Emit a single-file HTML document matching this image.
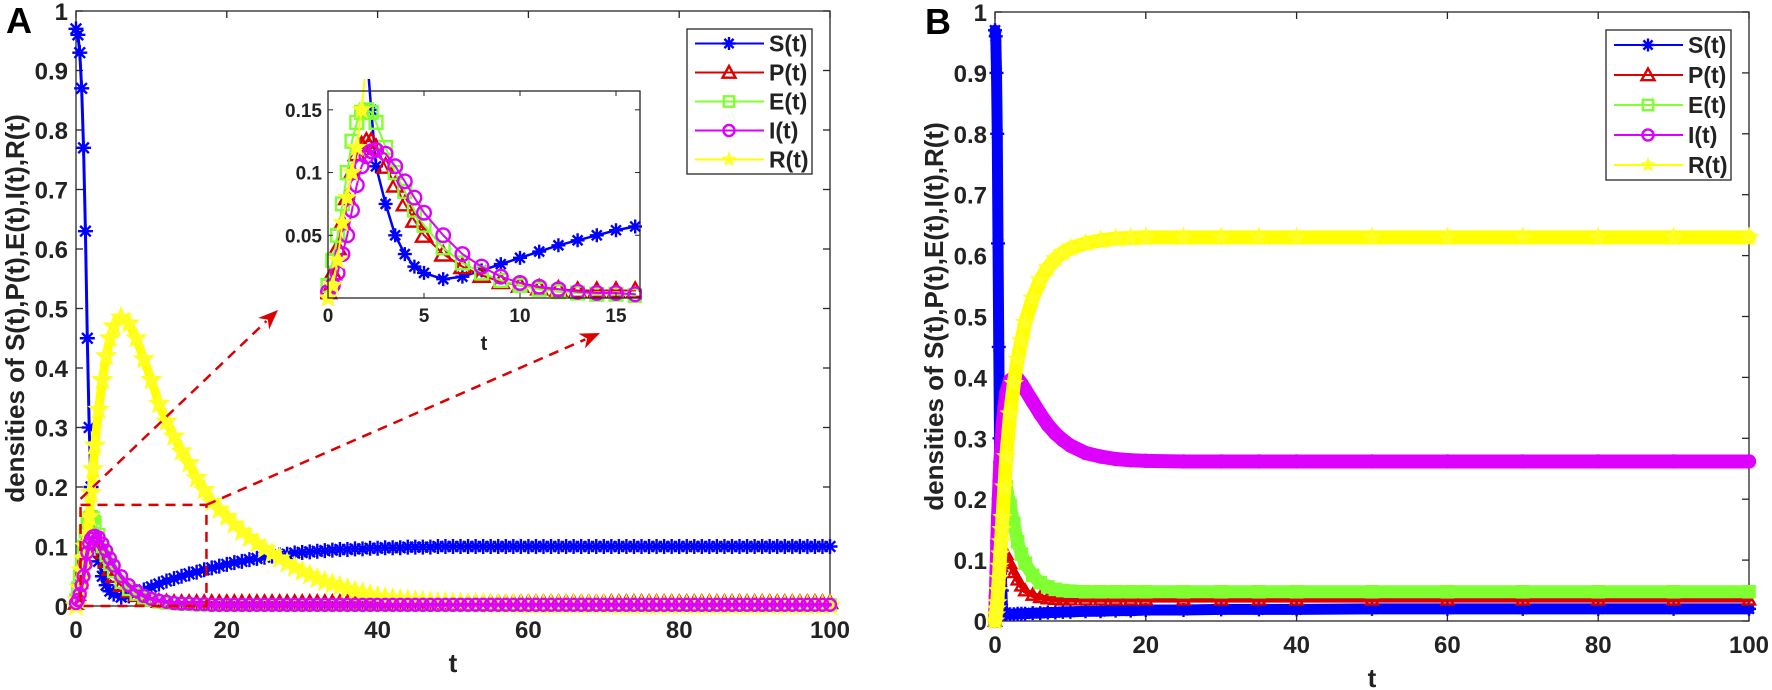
<!DOCTYPE html>
<html><head><meta charset="utf-8">
<style>
body{margin:0;background:#fff;}
svg{display:block;font-family:"Liberation Sans",Arial,sans-serif;font-weight:bold;}
</style></head>
<body>
<svg id="chart" width="1772" height="690" viewBox="0 0 1772 690" xmlns="http://www.w3.org/2000/svg"></svg>
<script>
// ---------- Panel A data ----------
const tA = [0,0.25,0.5,0.75,1,1.25,1.5,1.75,2,2.25,2.5,3,3.5,4,4.5,5,6,7,8,9,10,11,12,13,14,15,
16,17,18,19,20,21,22,23,24,25,26,27,28,29,30,31,32,33,34,35,36,37,38,39,40,41,42,43,44,45,46,47,48,49,50,
51,52,53,54,55,56,57,58,59,60,61,62,63,64,65,66,67,68,69,70,71,72,73,74,75,76,77,78,79,80,
81,82,83,84,85,86,87,88,89,90,91,92,93,94,95,96,97,98,99,100];
const sA = [0.97,0.96,0.93,0.87,0.77,0.63,0.45,0.30,0.20,0.15,0.105,0.075,0.05,0.035,0.025,0.02,0.015,0.017,0.022,0.027,0.032,0.037,0.042,0.046,0.05,0.054,
0.057,0.061,0.064,0.067,0.07,0.073,0.075,0.078,0.08,0.082,0.084,0.086,0.087,0.089,0.09,0.091,0.092,0.093,0.094,0.095,0.095,0.096,0.096,0.097,0.097,0.098,0.098,0.098,0.099,0.099,0.099,0.099,0.1,0.1,0.1,
0.1,0.1,0.1,0.1,0.1,0.1,0.1,0.1,0.1,0.1,0.1,0.1,0.1,0.1,0.1,0.1,0.1,0.1,0.1,0.1,0.1,0.1,0.1,0.1,0.1,0.1,0.1,0.1,0.1,0.1,
0.1,0.1,0.1,0.1,0.1,0.1,0.1,0.1,0.1,0.1,0.1,0.1,0.1,0.1,0.1,0.1,0.1,0.1,0.1,0.1];
const pA = [0.005,0.02,0.04,0.06,0.08,0.1,0.115,0.122,0.125,0.125,0.12,0.105,0.09,0.075,0.062,0.05,0.035,0.025,0.018,0.013,0.01,0.008,0.007,0.006,0.006,0.006,
0.006,0.006,0.006,0.006,0.006,0.006,0.006,0.006,0.006,0.006,0.006,0.006,0.006,0.006,0.006,0.006,0.006,0.006,0.006,0.006,0.006,0.006,0.006,0.006,0.006,0.006,0.006,0.006,0.006,0.006,0.006,0.006,0.006,0.006,0.006,
0.006,0.006,0.006,0.006,0.006,0.006,0.006,0.006,0.006,0.006,0.006,0.006,0.006,0.006,0.006,0.006,0.006,0.006,0.006,0.006,0.006,0.006,0.006,0.006,0.006,0.006,0.006,0.006,0.006,0.006,
0.006,0.006,0.006,0.006,0.006,0.006,0.006,0.006,0.006,0.006,0.006,0.006,0.006,0.006,0.006,0.006,0.006,0.006,0.006,0.006];
const eA = [0.01,0.03,0.05,0.075,0.1,0.125,0.14,0.148,0.15,0.148,0.14,0.12,0.1,0.085,0.07,0.058,0.04,0.028,0.02,0.014,0.01,0.007,0.005,0.004,0.003,0.003,
0.002,0.002,0.002,0.002,0.002,0.002,0.002,0.002,0.002,0.002,0.002,0.002,0.002,0.002,0.002,0.002,0.002,0.002,0.002,0.002,0.002,0.002,0.002,0.002,0.002,0.002,0.002,0.002,0.002,0.002,0.002,0.002,0.002,0.002,0.002,
0.002,0.002,0.002,0.002,0.002,0.002,0.002,0.002,0.002,0.002,0.002,0.002,0.002,0.002,0.002,0.002,0.002,0.002,0.002,0.002,0.002,0.002,0.002,0.002,0.002,0.002,0.002,0.002,0.002,0.002,
0.002,0.002,0.002,0.002,0.002,0.002,0.002,0.002,0.002,0.002,0.002,0.002,0.002,0.002,0.002,0.002,0.002,0.002,0.002,0.002];
const iA = [0.005,0.01,0.02,0.035,0.05,0.07,0.09,0.105,0.113,0.117,0.118,0.115,0.105,0.093,0.08,0.068,0.05,0.035,0.025,0.017,0.012,0.009,0.007,0.005,0.004,0.004,
0.003,0.003,0.002,0.002,0.002,0.002,0.002,0.002,0.002,0.002,0.002,0.002,0.002,0.002,0.002,0.002,0.002,0.002,0.002,0.002,0.002,0.002,0.002,0.002,0.002,0.002,0.002,0.002,0.002,0.002,0.002,0.002,0.002,0.002,0.002,
0.002,0.002,0.002,0.002,0.002,0.002,0.002,0.002,0.002,0.002,0.002,0.002,0.002,0.002,0.002,0.002,0.002,0.002,0.002,0.002,0.002,0.002,0.002,0.002,0.002,0.002,0.002,0.002,0.002,0.002,
0.002,0.002,0.002,0.002,0.002,0.002,0.002,0.002,0.002,0.002,0.002,0.002,0.002,0.002,0.002,0.002,0.002,0.002,0.002,0.002];
const rA = [0,0.01,0.03,0.06,0.08,0.1,0.12,0.15,0.19,0.23,0.27,0.33,0.38,0.42,0.45,0.47,0.485,0.475,0.45,0.415,0.38,0.34,0.31,0.285,0.26,0.24,
0.215,0.195,0.175,0.162,0.15,0.137,0.125,0.115,0.105,0.096,0.088,0.08,0.072,0.065,0.058,0.052,0.046,0.041,0.037,0.033,0.029,0.025,0.022,0.019,0.016,0.014,0.012,0.011,0.01,0.009,0.008,0.007,0.006,0.006,0.005,
0.005,0.004,0.004,0.004,0.003,0.003,0.003,0.003,0.002,0.002,0.002,0.002,0.002,0.002,0.002,0.002,0.002,0.002,0.002,0.002,0.001,0.001,0.001,0.001,0.001,0.001,0.001,0.001,0.001,0.001,
0.001,0.001,0.001,0.001,0.001,0.001,0.001,0.001,0.001,0.001,0.001,0.001,0.001,0.001,0.001,0.001,0.001,0.001,0.001,0.001];
// ---------- Panel B data ----------
const tB = [0,0.1,0.2,0.3,0.4,0.5,0.6,0.7,0.8,0.9,1,1.25,1.5,2,2.5,3,3.5,4,5,6,7,8,9,10,12,14,16,18,20,25,30,35,40,50,60,70,80,90,100];
const sB = [0.97,0.96,0.9,0.8,0.62,0.45,0.3,0.18,0.1,0.05,0.02,0.012,0.011,0.011,0.011,0.012,0.012,0.012,0.013,0.013,0.014,0.014,0.015,0.015,0.016,0.016,0.017,0.017,0.018,0.018,0.019,0.019,0.019,0.02,0.02,0.02,0.02,0.02,0.02];
const pB = [0,0.01,0.02,0.03,0.045,0.06,0.07,0.08,0.09,0.1,0.11,0.115,0.11,0.095,0.08,0.068,0.058,0.05,0.043,0.039,0.037,0.036,0.035,0.035,0.035,0.035,0.035,0.035,0.035,0.035,0.035,0.035,0.035,0.035,0.035,0.035,0.035,0.035,0.035];
const eB = [0,0.02,0.04,0.06,0.08,0.1,0.12,0.14,0.16,0.18,0.2,0.22,0.22,0.19,0.16,0.13,0.11,0.095,0.075,0.063,0.056,0.052,0.05,0.049,0.048,0.048,0.048,0.048,0.048,0.048,0.048,0.048,0.048,0.048,0.048,0.048,0.048,0.048,0.048];
const iB = [0,0.04,0.08,0.13,0.17,0.2,0.23,0.26,0.28,0.3,0.32,0.35,0.375,0.395,0.4,0.398,0.39,0.38,0.36,0.34,0.322,0.308,0.297,0.288,0.276,0.27,0.266,0.264,0.263,0.262,0.262,0.262,0.262,0.262,0.262,0.262,0.262,0.262,0.262];
const rB = [0,0.01,0.02,0.03,0.05,0.07,0.09,0.11,0.13,0.15,0.17,0.22,0.27,0.34,0.39,0.43,0.46,0.49,0.53,0.56,0.58,0.595,0.605,0.612,0.62,0.625,0.628,0.629,0.63,0.63,0.63,0.63,0.63,0.63,0.63,0.63,0.63,0.63,0.63];
// ---------- ticks ----------
const xTicks = [0,20,40,60,80,100];
const yTicks = [0,0.1,0.2,0.3,0.4,0.5,0.6,0.7,0.8,0.9,1];
const yTickLabels = ["0","0.1","0.2","0.3","0.4","0.5","0.6","0.7","0.8","0.9","1"];
const inXTicks = [0,5,10,15];
const inYTicks = [0.05,0.1,0.15];
const inYTickLabels = ["0.05","0.1","0.15"];
const legendLabels = ["S(t)","P(t)","E(t)","I(t)","R(t)"];

const NS="http://www.w3.org/2000/svg";
const svg=document.getElementById('chart');
const COLORS=["#0000ff","#dd0000","#80ff33","#dd00ff","#ffff22"];
const LINECOL=["#0000ff","#dd0000","#80ff33","#dd00ff","#ffff00"];
function el(tag,attrs,parent){const e=document.createElementNS(NS,tag);for(const k in attrs)e.setAttribute(k,attrs[k]);(parent||svg).appendChild(e);return e;}
function txt(x,y,s,size,anchor,parent){const t=el('text',{x:x,y:y,'font-size':size,'text-anchor':anchor||'middle',fill:'#222'},parent);t.textContent=s;return t;}
function scale(d0,d1,r0,r1){return v=>r0+(v-d0)/(d1-d0)*(r1-r0);}

function marker(kind,x,y,sz,col,parent){
  let m;
  const r=sz/2;
  if(kind===0){
    const d=[];for(let k=0;k<4;k++){const a=k*Math.PI/4;d.push(`M${x-r*Math.cos(a)},${y-r*Math.sin(a)}L${x+r*Math.cos(a)},${y+r*Math.sin(a)}`);}
    m=el('path',{d:d.join(''),stroke:col,'stroke-width':2.4,fill:'none'},parent);
  } else if(kind===1){
    m=el('polygon',{points:`${x},${y-r} ${x-r},${y+r*0.8} ${x+r},${y+r*0.8}`,stroke:col,'stroke-width':2.4,fill:'none'},parent);
  } else if(kind===2){
    m=el('rect',{x:x-r*0.8,y:y-r*0.8,width:r*1.6,height:r*1.6,stroke:col,'stroke-width':2.4,fill:'none'},parent);
  } else if(kind===3){
    m=el('circle',{cx:x,cy:y,r:r*0.85,stroke:col,'stroke-width':2.4,fill:'none'},parent);
  } else {
    const p=[];for(let k=0;k<10;k++){const a=-Math.PI/2+k*Math.PI/5;const rr=k%2?r*0.45:r*1.05;p.push(`${x+rr*Math.cos(a)},${y+rr*Math.sin(a)}`);}
    m=el('polygon',{points:p.join(' '),fill:col,stroke:col,'stroke-width':1},parent);
  }
  return m;
}

function axesBox(x0,y0,x1,y1,name){
  const r=el('rect',{x:x0,y:y0,width:x1-x0,height:y1-y0,fill:'none',stroke:'#262626','stroke-width':1.3});
  
  
}

function drawSeries(ts,vals,k,sx,sy,lw,msz,name,parent,clipT){
  const g=el('g',{},parent);
  
  
  const pts=[];
  for(let i=0;i<ts.length;i++){if(clipT!==undefined&&ts[i]>clipT)break;pts.push([sx(ts[i]),sy(vals[i])]);}
  el('polyline',{points:pts.map(p=>p.join(',')).join(' '),fill:'none',stroke:LINECOL[k],'stroke-width':lw,'stroke-linejoin':'round','stroke-linecap':'round'},g);
  pts.forEach(p=>marker(k,p[0],p[1],msz,COLORS[k],g));
}

function panelAxes(X0,Y0,X1,Y1,letter,lx){
  const sx=scale(0,100,X0,X1), sy=scale(0,1,Y1,Y0);
  axesBox(X0,Y0,X1,Y1,'plot-area-'+letter.toLowerCase());
  xTicks.forEach(v=>{const x=sx(v);el('line',{x1:x,y1:Y1,x2:x,y2:Y1-7,stroke:'#262626','stroke-width':1.3});el('line',{x1:x,y1:Y0,x2:x,y2:Y0+7,stroke:'#262626','stroke-width':1.3});
    const t=txt(x,Y1+32,String(v),24);});
  yTicks.forEach((v,i)=>{const y=sy(v);el('line',{x1:X0,y1:y,x2:X0+7,y2:y,stroke:'#262626','stroke-width':1.3});el('line',{x1:X1,y1:y,x2:X1-7,y2:y,stroke:'#262626','stroke-width':1.3});
    const t=txt(X0-8,y+9,yTickLabels[i],24,'end');});
  const xt=txt((X0+X1)/2,Y1+66,'t',26);
  const yt=txt(0,0,'densities of S(t),P(t),E(t),I(t),R(t)',26);
  yt.setAttribute('transform',`translate(${lx},${(Y0+Y1)/2}) rotate(-90)`);
  
  const L=txt(X0-70,Y0+22,letter,36,'start');L.setAttribute('fill','#000');
  
  return [sx,sy];
}

function legend(x,y,w,h,name){
  const g=el('g',{});
  
  
  el('rect',{x:x,y:y,width:w,height:h,fill:'#fff',stroke:'#262626','stroke-width':1.3},g);
  const step=h/5;
  legendLabels.forEach((s,k)=>{
    const e=el('g',{},g);
    
    
    const cy=y+step*(k+0.5);
    el('line',{x1:x+8,y1:cy,x2:x+77,y2:cy,stroke:LINECOL[k],'stroke-width':2},e);
    marker(k,x+42,cy,13,COLORS[k],e);
    txt(x+82,cy+8,s,23,'start',e);
  });
}

// ---------- Panel A ----------
const AX0=76,AY0=11,AX1=830,AY1=606;
const [sxA,syA]=panelAxes(AX0,AY0,AX1,AY1,'A',24);
const gA=el('g',{});


drawSeries(tA,sA,0,sxA,syA,3,15,'series-a-s',gA);
drawSeries(tA,pA,1,sxA,syA,3,14,'series-a-p',gA);
drawSeries(tA,eA,2,sxA,syA,3,14,'series-a-e',gA);
drawSeries(tA,rA,4,sxA,syA,9,20,'series-a-r',gA);
drawSeries(tA,iA,3,sxA,syA,4,14,'series-a-i',gA);

const zr=el('rect',{x:sxA(0.6),y:syA(0.17),width:sxA(17.3)-sxA(0.6),height:syA(0)-syA(0.17),fill:'none',stroke:'#dd0000','stroke-width':2.5,'stroke-dasharray':'10,7'});

function arrow(x1,y1,x2,y2,name){
  const g=el('g',{});
  const a=Math.atan2(y2-y1,x2-x1);
  const bx=x2-16*Math.cos(a),by=y2-16*Math.sin(a);
  el('line',{x1:x1,y1:y1,x2:bx,y2:by,stroke:'#dd0000','stroke-width':2.5,'stroke-dasharray':'10,7'},g);
  const p=[[x2,y2],[bx-8*Math.sin(a)-4*Math.cos(a),by+8*Math.cos(a)-4*Math.sin(a)],[bx+2*Math.cos(a),by+2*Math.sin(a)],[bx+8*Math.sin(a)-4*Math.cos(a),by-8*Math.cos(a)-4*Math.sin(a)]];
  el('polygon',{points:p.map(q=>q.join(',')).join(' '),fill:'#dd0000'},g);
}
arrow(sxA(0.6),syA(0.18),278,310,'zoom-arrow-left');
arrow(sxA(17.3),syA(0.17),600,333,'zoom-arrow-right');

// inset
const IX0=328,IY0=91,IX1=640,IY1=298;
const sxI=scale(0,16.25,IX0,IX1), syI=scale(0,0.165,IY1,IY0);
el('rect',{x:IX0,y:IY0,width:IX1-IX0,height:IY1-IY0,fill:'#fff'});
const clip=el('clipPath',{id:'inclip'});el('rect',{x:IX0-8,y:IY0-12,width:IX1-IX0+10,height:IY1-IY0+20},clip);
const gI=el('g',{'clip-path':'url(#inclip)'});

drawSeries(tA,sA,0,sxI,syI,2.5,14,'inset-series-s',gI,16.3);
drawSeries(tA,pA,1,sxI,syI,2,16,'inset-series-p',gI,16.3);
drawSeries(tA,eA,2,sxI,syI,2,16,'inset-series-e',gI,16.3);
drawSeries(tA,iA,3,sxI,syI,2,16,'inset-series-i',gI,16.3);
drawSeries(tA,rA,4,sxI,syI,2,18,'inset-series-r',gI,16.3);
axesBox(IX0,IY0,IX1,IY1,'inset-axes');
inXTicks.forEach(v=>{const x=sxI(v);el('line',{x1:x,y1:IY1,x2:x,y2:IY1-5,stroke:'#262626'});el('line',{x1:x,y1:IY0,x2:x,y2:IY0+5,stroke:'#262626'});
  const t=txt(x,IY1+24,String(v),19);});
inYTicks.forEach((v,i)=>{const y=syI(v);el('line',{x1:IX0,y1:y,x2:IX0+5,y2:y,stroke:'#262626'});el('line',{x1:IX1,y1:y,x2:IX1-5,y2:y,stroke:'#262626'});
  const t=txt(IX0-6,y+7,inYTickLabels[i],19,'end');});
const it=txt((IX0+IX1)/2,IY1+52,'t',20);

legend(687,29,125,145,'legend-a');

// ---------- Panel B ----------
const BX0=995,BY0=12,BX1=1749,BY1=621;
const [sxB,syB]=panelAxes(BX0,BY0,BX1,BY1,'B',943);
const gB=el('g',{});


drawSeries(tB,sB,0,sxB,syB,11,14,'series-b-s',gB);
drawSeries(tB,pB,1,sxB,syB,6,12,'series-b-p',gB);
drawSeries(tB,eB,2,sxB,syB,13,14,'series-b-e',gB);
drawSeries(tB,iB,3,sxB,syB,14,14,'series-b-i',gB);
drawSeries(tB,rB,4,sxB,syB,14,18,'series-b-r',gB);
legend(1606,30,125,150,'legend-b');
</script>
</body></html>
